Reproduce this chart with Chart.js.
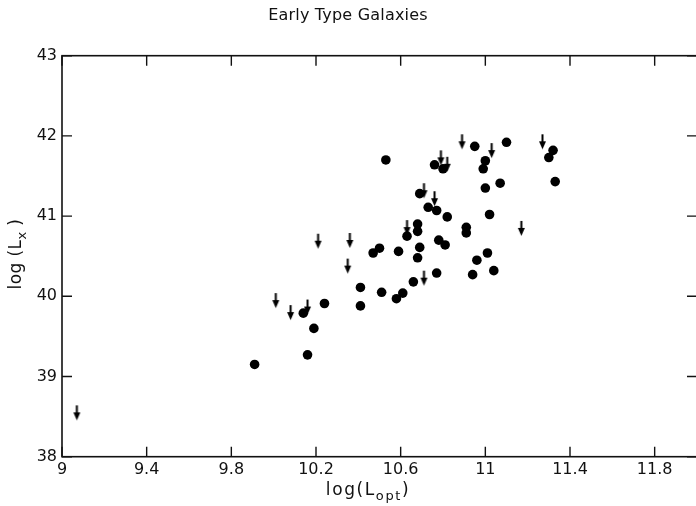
<!DOCTYPE html>
<html>
<head>
<meta charset="utf-8">
<script src="https://cdn.jsdelivr.net/npm/chart.js@4.4.1/dist/chart.umd.min.js"></script>
<style>
  html, body { margin: 0; padding: 0; background: #fff; overflow: hidden; }
  #wrap { position: relative; width: 706px; height: 506px; }
</style>
</head>
<body>
<div id="wrap"><canvas id="c" width="706" height="506"></canvas></div>
<script>
// Detected galaxies: log(L_opt), log(L_x)
const detX = [9.91, 10.16, 10.19, 10.14, 10.24, 10.41, 10.41, 10.51, 10.58, 10.61,
              10.66, 10.77, 10.94, 11.04, 10.96, 11.01, 10.68, 10.69, 10.78, 10.81,
              10.59, 10.50, 10.47, 10.63, 10.68, 10.68, 10.91, 10.91, 10.82, 11.02,
              10.73, 10.77, 10.69, 11.00, 11.07, 11.33, 10.99, 11.00, 10.76, 10.80,
              10.53, 10.95, 11.10, 11.32, 11.30];
const detY = [39.15, 39.27, 39.60, 39.79, 39.91, 40.11, 39.88, 40.05, 39.97, 40.04,
              40.18, 40.29, 40.27, 40.32, 40.45, 40.54, 40.48, 40.61, 40.70, 40.64,
              40.56, 40.60, 40.54, 40.75, 40.90, 40.81, 40.86, 40.79, 40.99, 41.02,
              41.11, 41.07, 41.28, 41.35, 41.41, 41.43, 41.59, 41.69, 41.64, 41.59,
              41.70, 41.87, 41.92, 41.82, 41.73];

// Upper limits on log(L_x)
const limX = [9.07, 10.01, 10.08, 10.16, 10.21, 10.36, 10.35, 10.63, 10.71, 10.71,
              10.76, 10.79, 10.82, 10.89, 11.03, 11.27, 11.17];
const limY = [38.64, 40.04, 39.89, 39.96, 40.78, 40.79, 40.47, 40.95, 40.32, 41.41,
              41.31, 41.82, 41.74, 42.02, 41.91, 42.02, 40.94];

const xTicks = [9, 9.4, 9.8, 10.2, 10.6, 11, 11.4, 11.8];
const yTicks = [38, 39, 40, 41, 42, 43];

const INK = '#111';
const TICK_FONT = { family: '"DejaVu Sans", sans-serif', size: 16 };

// Downward arrow marker; the image centre sits at the arrow's tail,
// so the limit value is the top of the arrow.
function makeArrow() {
  const c = document.createElement('canvas');
  c.width = 9; c.height = 32;
  const g = c.getContext('2d');
  g.fillStyle = '#000';
  g.fillRect(3.5, 16, 2, 9);
  g.beginPath();
  g.moveTo(1, 23);
  g.lineTo(8, 23);
  g.lineTo(4.5, 31);
  g.closePath();
  g.fill();
  return c;
}

function drawParts(ctx, parts, x, y, size, subSize, spacing) {
  // parts: [text, isSubscript]; drawn centred on x
  ctx.letterSpacing = spacing + 'px';
  let w = 0;
  const widths = parts.map(([t, sub]) => {
    ctx.font = (sub ? subSize : size) + 'px "DejaVu Sans", sans-serif';
    const m = ctx.measureText(t).width;
    w += m;
    return m;
  });
  let cx = x - w / 2;
  parts.forEach(([t, sub], i) => {
    ctx.font = (sub ? subSize : size) + 'px "DejaVu Sans", sans-serif';
    ctx.fillText(t, cx, y + (sub ? size * 0.35 : 0));
    cx += widths[i];
  });
  ctx.letterSpacing = '0px';
}

const framePlugin = {
  id: 'frame',
  afterDraw(chart) {
    const { ctx, chartArea: a, scales } = chart;
    ctx.save();
    ctx.strokeStyle = INK;
    ctx.lineWidth = 1.6;
    ctx.strokeRect(a.left, a.top, a.right - a.left, a.bottom - a.top);

    // inward tick marks on all four sides
    const len = 10;
    ctx.lineWidth = 1.4;
    ctx.beginPath();
    xTicks.forEach(v => {
      const px = scales.x.getPixelForValue(v);
      ctx.moveTo(px, a.bottom); ctx.lineTo(px, a.bottom - len);
      ctx.moveTo(px, a.top); ctx.lineTo(px, a.top + len);
    });
    yTicks.forEach(v => {
      const py = scales.y.getPixelForValue(v);
      ctx.moveTo(a.left, py); ctx.lineTo(a.left + len, py);
      ctx.moveTo(a.right, py); ctx.lineTo(a.right - len, py);
    });
    ctx.stroke();

    ctx.fillStyle = INK;
    ctx.textBaseline = 'middle';
    ctx.textAlign = 'left';

    // title
    drawParts(ctx, [['Early Type Galaxies', false]], 348, 16, 16, 16, 0.2);

    // x-axis title
    drawParts(ctx, [['log(L', false], ['opt', true], [')', false]], 368, 491, 17, 13, 1.6);

    // y-axis title, rotated
    ctx.translate(17, 254);
    ctx.rotate(-Math.PI / 2);
    drawParts(ctx, [['log (L', false], ['x', true], [' )', false]], 0, 0, 17, 13, 0.4);
    ctx.restore();
  }
};

new Chart(document.getElementById('c'), {
  type: 'scatter',
  data: {
    datasets: [
      {
        label: 'detections',
        data: detX.map((x, i) => ({ x, y: detY[i] })),
        pointRadius: 4.8,
        pointBackgroundColor: '#000',
        pointBorderWidth: 0
      },
      {
        label: 'upper limits',
        data: limX.map((x, i) => ({ x, y: limY[i] })),
        pointStyle: makeArrow(),
        pointRadius: 8
      }
    ]
  },
  options: {
    responsive: false,
    animation: false,
    devicePixelRatio: 1,
    layout: { padding: { top: 55.7, right: 5, left: 0, bottom: 0 } },
    plugins: {
      legend: { display: false },
      tooltip: { enabled: false },
      title: { display: false }
    },
    scales: {
      x: {
        type: 'linear',
        min: 9,
        max: 12,
        afterBuildTicks: s => { s.ticks = xTicks.map(v => ({ value: v })); },
        afterFit: s => { s.height = 506 - 456.7; },
        grid: { display: false, drawTicks: false },
        border: { display: false },
        ticks: {
          padding: 4,
          color: INK,
          font: TICK_FONT,
          maxRotation: 0,
          autoSkip: false,
          callback: v => String(v)
        }
      },
      y: {
        type: 'linear',
        min: 38,
        max: 43,
        afterBuildTicks: s => { s.ticks = yTicks.map(v => ({ value: v })); },
        afterFit: s => { s.width = 62; },
        grid: { display: false, drawTicks: false },
        border: { display: false },
        ticks: {
          padding: 5,
          color: INK,
          font: TICK_FONT,
          autoSkip: false,
          callback: v => String(v)
        }
      }
    }
  },
  plugins: [framePlugin]
});
</script>
</body>
</html>
